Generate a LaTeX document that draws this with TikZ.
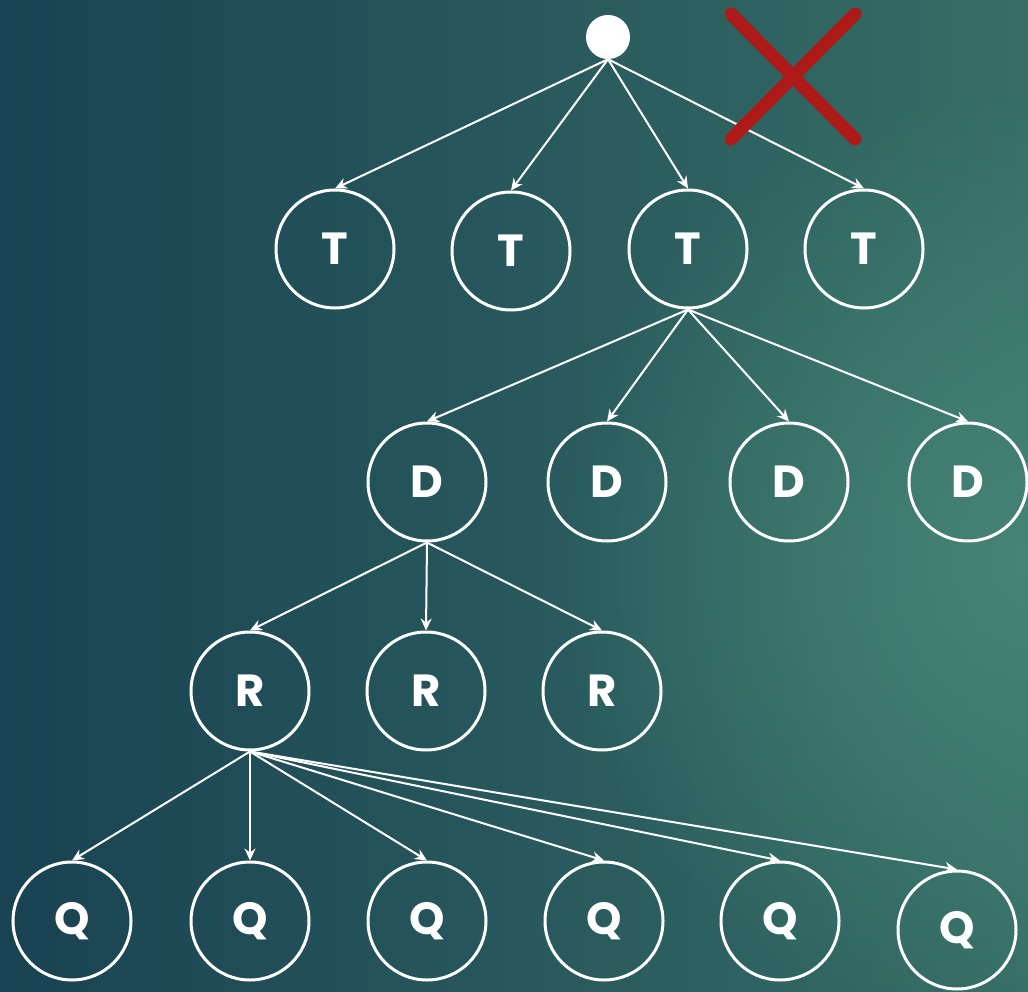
\documentclass[tikz,border=0pt]{standalone}
\usepackage{fontspec}
\setmainfont{Poppins}
\usetikzlibrary{arrows.meta,fadings}
\definecolor{bgleft}{RGB}{25,66,82}
\definecolor{bgright}{RGB}{54,110,102}
\definecolor{bgspot}{RGB}{70,132,118}
\definecolor{xred}{RGB}{173,26,23}
\tikzfading[name=softspot,inner color=transparent!0,outer color=transparent!100]
\begin{document}
\begin{tikzpicture}[x=1pt,y=-1pt,
  tn/.style={circle,draw=white,line width=3pt,minimum size=118pt,inner sep=0pt,
    text=white,font=\fontsize{45}{45}\selectfont\bfseries},
  edge/.style={draw=white,line width=2pt,-{Stealth[length=12pt,width=11pt,inset=4pt]}},
  xline/.style={draw=xred,line width=13pt,line cap=round}]
\useasboundingbox (0,0) rectangle (1028,992);
\begin{scope}
\clip (0,0) rectangle (1028,992);
\shade[left color=bgleft,right color=bgright] (0,0) rectangle (1028,992);
\fill[bgspot,path fading=softspot] (1030,560) circle (480pt);
\end{scope}
% root
\node[circle,fill=white,minimum size=44pt,inner sep=0pt] (root) at (608,37) {};
% T level
\node[tn] (t1) at (335,249) {T};
\node[tn] (t2) at (511,251) {T};
\node[tn] (t3) at (688,249) {T};
\node[tn] (t4) at (864,249) {T};
% D level
\node[tn] (d1) at (427,482) {D};
\node[tn] (d2) at (607,482) {D};
\node[tn] (d3) at (789,482) {D};
\node[tn] (d4) at (968,482) {D};
% R level
\node[tn] (r1) at (250,691) {R};
\node[tn] (r2) at (426,691) {R};
\node[tn] (r3) at (602,691) {R};
% Q level
\node[tn] (q1) at (72,921) {Q};
\node[tn] (q2) at (250,921) {Q};
\node[tn] (q3) at (427,921) {Q};
\node[tn] (q4) at (604,921) {Q};
\node[tn] (q5) at (780,921) {Q};
\node[tn] (q6) at (957,930) {Q};
% edges
\foreach \c in {t1,t2,t3,t4} \draw[edge] (root.south) -- (\c.north);
\foreach \c in {d1,d2,d3,d4} \draw[edge] (t3.south) -- (\c.north);
\foreach \c in {r1,r2,r3} \draw[edge] (d1.south) -- (\c.north);
\foreach \c in {q1,q2,q3,q4,q5,q6} \draw[edge] (r1.south) -- (\c.north);
% red cross
\coordinate (xa) at (731,14);
\coordinate (xb) at (855,139);
\coordinate (xc) at (855,14);
\coordinate (xd) at (731,139);
\draw[xline] (xa) -- (xb);
\draw[xline] (xc) -- (xd);
\end{tikzpicture}
\end{document}
